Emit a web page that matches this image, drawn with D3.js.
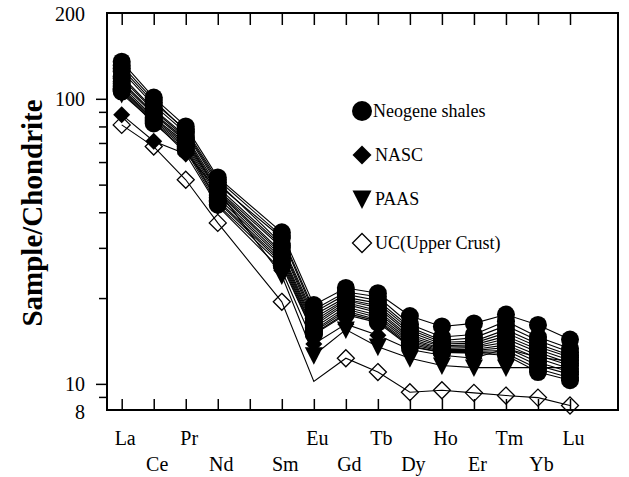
<!DOCTYPE html>
<html>
<head>
<meta charset="utf-8">
<script src="https://cdn.jsdelivr.net/npm/d3@7"></script>
<style>
  body { margin: 0; background: #fff; }
  text { font-family: "Liberation Serif", "Times New Roman", serif; fill: #000; }
</style>
</head>
<body>
<div id="chart"></div>
<script>
// tick slots on the x axis (Pm has a tick but no label and no data)
const slots = ["La", "Ce", "Pr", "Nd", "Pm", "Sm", "Eu", "Gd", "Tb", "Dy", "Ho", "Er", "Tm", "Yb", "Lu"];
const ree = ["La", "Ce", "Pr", "Nd", "Sm", "Eu", "Gd", "Tb", "Dy", "Ho", "Er", "Tm", "Yb", "Lu"];

// chondrite-normalised values
const shales = [
  [135, 101, 80, 53, 34, 18.9, 21.7, 20.8, 17.3, 15.9, 16.3, 17.5, 16.1, 14.3],
  [128, 97, 78, 52, 33, 18.2, 21.0, 20.2, 16.2, 14.6, 14.9, 16.6, 14.6, 13.3],
  [125, 95, 76, 50, 32.5, 17.8, 20.6, 19.6, 15.8, 14.2, 14.5, 16.0, 14.2, 12.9],
  [131, 99, 77, 51, 31, 17.4, 20.1, 19.2, 15.5, 14.0, 14.1, 15.5, 13.8, 12.6],
  [120, 92, 74, 49, 30.5, 17.0, 19.8, 18.8, 15.2, 13.8, 13.9, 15.1, 13.5, 12.4],
  [118, 91, 73, 48, 30, 16.6, 19.6, 18.5, 14.9, 13.6, 13.7, 14.7, 13.2, 12.1],
  [115, 89, 72, 47.5, 29, 16.3, 19.3, 18.1, 14.6, 13.5, 13.5, 14.4, 12.9, 11.8],
  [113, 88, 71, 47, 28.5, 16.0, 19.0, 17.8, 14.4, 13.3, 13.4, 14.0, 12.6, 11.6],
  [111, 86, 70, 46, 28, 15.7, 18.6, 17.4, 14.2, 13.2, 13.2, 13.7, 12.3, 11.3],
  [109, 85, 69, 45, 27.5, 15.4, 18.3, 17.1, 14.0, 13.1, 13.1, 13.4, 11.9, 11.0],
  [108, 84, 68, 44, 27, 15.2, 18.0, 16.8, 13.8, 13.0, 13.0, 13.1, 11.6, 10.8],
  [107, 83, 67, 43.5, 26.5, 15.0, 17.7, 16.6, 13.6, 12.9, 12.9, 12.8, 11.3, 10.5],
  [106, 82, 66, 42.5, 26, 14.9, 17.5, 16.4, 13.5, 12.9, 12.8, 12.6, 11.0, 10.3]
];
const nasc = [88, 71, 64, 42, 25, 13.8, 16.2, 14.8, 13.2, 12.6, 12.3, 13.3, 12.4, 12.0];
const paas = [104, 83, 64.5, 47.7, 24.0, 12.6, 15.5, 13.5, 12.3, 11.6, 11.4, 11.4, 11.4, 11.4];
const uc = [81, 68, 52, 36.7, 19.4, 10.2, 12.3, 11.0, 9.35, 9.5, 9.3, 9.1, 8.95, 8.4];
const ucNoMarker = ["Eu"];

const yMajor = [10, 100];
const yMinor = [9, 20, 30, 40, 50, 60, 70, 80, 90];
const yLabels = [8, 10, 100, 200];

const legendItems = [
  { label: "Neogene shales", type: "circle" },
  { label: "NASC", type: "diamond" },
  { label: "PAAS", type: "triangle" },
  { label: "UC(Upper Crust)", type: "open" }
];

const W = 629, H = 477;
const frame = { left: 107, right: 618, top: 13, bottom: 410 };

const svg = d3.select("#chart").append("svg")
  .attr("width", W)
  .attr("height", H);

const x = d3.scalePoint().domain(slots).range([121.7, 570]);
const y = d3.scaleLog().domain([8, 200]).range([411.5, 13]);

function markerPath(type, s) {
  if (type === "circle") {
    return `M${-s},0A${s},${s} 0 1,0 ${s},0A${s},${s} 0 1,0 ${-s},0Z`;
  }
  if (type === "triangle") {
    return `M${-s},${-s * 0.9}L${s},${-s * 0.9}L0,${s * 1.05}Z`;
  }
  return `M0,${-s}L${s},0L0,${s}L${-s},0Z`;
}

function series(vals) {
  return vals.map((v, i) => ({ el: ree[i], v }));
}

const line = d3.line()
  .x(d => x(d.el))
  .y(d => y(d.v));

// lines
const lineG = svg.append("g")
  .attr("fill", "none")
  .attr("stroke", "#000")
  .attr("stroke-width", 1.1);

[uc, ...shales, nasc, paas].forEach(vals => {
  lineG.append("path").attr("d", line(series(vals)));
});

// markers
const mk = svg.append("g");

mk.append("g").selectAll("path")
  .data(series(uc).filter(d => !ucNoMarker.includes(d.el)))
  .join("path")
  .attr("transform", d => `translate(${x(d.el)},${y(d.v)})`)
  .attr("d", markerPath("open", 8.5))
  .attr("fill", "none")
  .attr("stroke", "#000")
  .attr("stroke-width", 1.3);

shales.forEach(vals => {
  mk.append("g").selectAll("path")
    .data(series(vals))
    .join("path")
    .attr("transform", d => `translate(${x(d.el)},${y(d.v)})`)
    .attr("d", markerPath("circle", 9))
    .attr("fill", "#000");
});

mk.append("g").selectAll("path")
  .data(series(nasc))
  .join("path")
  .attr("transform", d => `translate(${x(d.el)},${y(d.v)})`)
  .attr("d", markerPath("diamond", 8.5))
  .attr("fill", "#000");

mk.append("g").selectAll("path")
  .data(series(paas))
  .join("path")
  .attr("transform", d => `translate(${x(d.el)},${y(d.v)})`)
  .attr("d", markerPath("triangle", 9))
  .attr("fill", "#000");

// axes
const xBottom = svg.append("g")
  .attr("transform", `translate(0,${frame.bottom})`)
  .call(d3.axisTop(x).tickSize(11).tickFormat(""));
xBottom.select(".domain").remove();

const xTop = svg.append("g")
  .attr("transform", `translate(0,${frame.top})`)
  .call(d3.axisBottom(x).tickSize(12).tickFormat(""));
xTop.select(".domain").remove();

const xLab = svg.append("g")
  .attr("transform", `translate(3,${frame.bottom})`)
  .call(d3.axisBottom(x).tickSize(0).tickFormat(d => d === "Pm" ? "" : d));
xLab.select(".domain").remove();
xLab.selectAll("text")
  .attr("dy", 0)
  .attr("y", (d, i) => i % 2 === 0 ? 35 : 61)
  .style("font-size", "20px")
  .style("font-family", "Liberation Serif");

const yMin = svg.append("g")
  .attr("transform", `translate(${frame.left},0)`)
  .call(d3.axisLeft(y).tickValues(yMinor).tickSize(8).tickFormat(""));
yMin.select(".domain").remove();

const yMaj = svg.append("g")
  .attr("transform", `translate(${frame.left},0)`)
  .call(d3.axisLeft(y).tickValues(yMajor).tickSize(11).tickFormat(""));
yMaj.select(".domain").remove();

const yLab = svg.append("g")
  .attr("transform", `translate(${frame.left},0)`)
  .call(d3.axisLeft(y).tickValues(yLabels).tickSize(0).tickPadding(22).tickFormat(d3.format("d")));
yLab.select(".domain").remove();
yLab.selectAll("text")
  .attr("dy", "0.35em")
  .style("font-size", "20px")
  .style("font-family", "Liberation Serif");

svg.selectAll(".tick line").attr("stroke", "#000").attr("stroke-width", 1.5);

svg.append("rect")
  .attr("x", frame.left)
  .attr("y", frame.top)
  .attr("width", frame.right - frame.left)
  .attr("height", frame.bottom - frame.top)
  .attr("fill", "none")
  .attr("stroke", "#000")
  .attr("stroke-width", 2);

svg.append("text")
  .attr("transform", "translate(42,213) rotate(-90)")
  .attr("text-anchor", "middle")
  .style("font-size", "29px")
  .style("font-weight", "bold")
  .text("Sample/Chondrite");

// legend
const legend = svg.append("g").attr("transform", "translate(362,111)");
legendItems.forEach((d, i) => {
  const g = legend.append("g").attr("transform", `translate(0,${i * 44})`);
  g.append("path")
    .attr("d", markerPath(d.type, d.type === "circle" ? 10 : 9.5))
    .attr("fill", d.type === "open" ? "none" : "#000")
    .attr("stroke", d.type === "open" ? "#000" : "none")
    .attr("stroke-width", 1.3);
  g.append("text")
    .attr("x", i === 0 ? 11 : 13)
    .attr("y", 6)
    .style("font-size", "18px")
    .text(d.label);
});
</script>
</body>
</html>
